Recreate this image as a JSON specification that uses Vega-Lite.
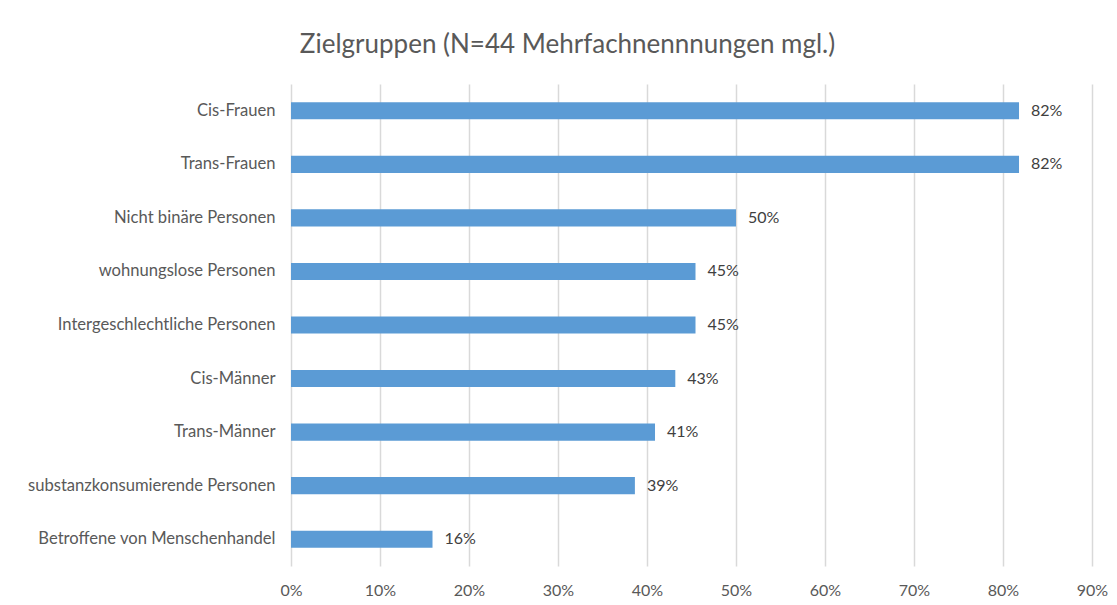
{
  "$schema": "https://vega.github.io/schema/vega-lite/v6.json",
  "autosize": {"type": "none"},
  "width": 801,
  "height": 482,
  "padding": {"left": 291, "top": 84, "right": 25, "bottom": 39},
  "background": "white",
  "config": {
    "view": {"stroke": null},
    "font": "Lato"
  },
  "title": {
    "text": "Zielgruppen (N=44 Mehrfachnennnungen mgl.)",
    "anchor": "middle",
    "frame": "group",
    "dx": -124,
    "offset": 26,
    "fontSize": 26,
    "fontWeight": "normal",
    "color": "#595959",
    "font": "Lato"
  },
  "data": {
    "values": [
      {"gruppe": "Cis-Frauen", "anteil": 0.818},
      {"gruppe": "Trans-Frauen", "anteil": 0.818},
      {"gruppe": "Nicht binäre Personen", "anteil": 0.5},
      {"gruppe": "wohnungslose Personen", "anteil": 0.4545},
      {"gruppe": "Intergeschlechtliche Personen", "anteil": 0.4545},
      {"gruppe": "Cis-Männer", "anteil": 0.4318},
      {"gruppe": "Trans-Männer", "anteil": 0.409},
      {"gruppe": "substanzkonsumierende Personen", "anteil": 0.3864},
      {"gruppe": "Betroffene von Menschenhandel", "anteil": 0.159}
    ]
  },
  "encoding": {
    "y": {
      "field": "gruppe",
      "type": "nominal",
      "sort": null,
      "scale": {"paddingInner": 0.68, "paddingOuter": 0.34},
      "axis": {
        "title": null,
        "ticks": false,
        "domain": false,
        "labelPadding": 16,
        "labelFontSize": 16.6,
        "labelColor": "#595959",
        "labelFont": "Lato",
        "labelLimit": 300
      }
    },
    "x": {
      "field": "anteil",
      "type": "quantitative",
      "scale": {"domain": [0, 0.9], "nice": false},
      "axis": {
        "title": null,
        "format": ".0%",
        "values": [0, 0.1, 0.2, 0.3, 0.4, 0.5, 0.6, 0.7, 0.8, 0.9],
        "ticks": false,
        "domain": false,
        "grid": true,
        "gridColor": "#d9d9d9",
        "gridWidth": 1.5,
        "labelFlush": false,
        "labelPadding": 16,
        "labelFontSize": 16,
        "labelColor": "#595959",
        "labelFont": "Lato"
      }
    }
  },
  "layer": [
    {"mark": {"type": "bar", "color": "#5b9bd5"}},
    {
      "mark": {"type": "text", "align": "left", "dx": 12, "fontSize": 16, "color": "#404040", "font": "Lato"},
      "encoding": {"text": {"field": "anteil", "type": "quantitative", "format": ".0%"}}
    }
  ]
}
